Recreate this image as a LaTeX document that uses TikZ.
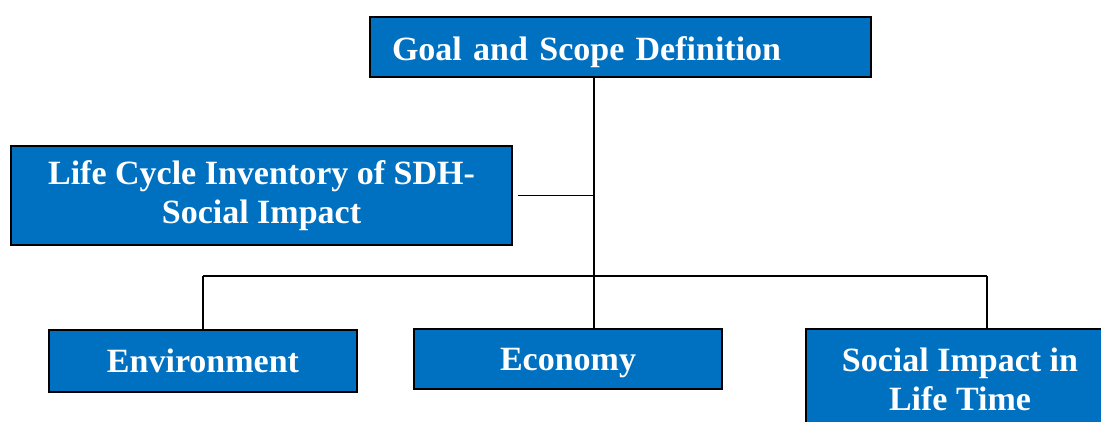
\documentclass[tikz,border=0pt]{standalone}
\usepackage{fontspec}
\setmainfont{Liberation Serif}
\usepackage{tikz}
\usetikzlibrary{shapes,arrows}

\definecolor{boxblue}{HTML}{0070C0}

\begin{document}
\begin{tikzpicture}[x=1pt,y=1pt,
    box/.style={draw=black,line width=1.5pt,fill=boxblue,text=white,
        font=\fontsize{34}{39}\selectfont\bfseries,align=center,inner sep=0pt},
    link/.style={draw=black,line width=1.8pt}]
    \pgfmathsetmacro{\trunk}{594}
    \pgfmathsetmacro{\bus}{145}
    \pgfmathsetmacro{\lx}{203}
    \pgfmathsetmacro{\rx}{987}
    \clip (0,0) rectangle (1101,421);
    % Draw the boxes
    \node [box,minimum width=501,minimum height=60,text width=457,align=left,
        text height=28,text depth=0] (goal) at (620.5,374) {Goal and Scope Definition};
    \node [box,minimum width=501,minimum height=99]
        (lci) at (261.5,225.5) {Life Cycle Inventory of SDH-\\Social Impact};
    \node [box,minimum width=308,minimum height=62,text depth=0] (env) at (203,60) {Environment};
    \node [box,minimum width=308,minimum height=60,text depth=0] (eco) at (568,62) {Economy};
    \node [box,minimum width=308,minimum height=100,text depth=0pt]
        (soc) at (960,42) {Social Impact in\\Life Time};
    \coordinate (hub) at (\trunk,\bus);
    \coordinate (busl) at (\lx,\bus);
    \coordinate (busr) at (\rx,\bus);
    % Draw the links
    \draw [link] (goal.south -| hub) -- (eco.north -| hub);
    \draw [link] ([xshift=5]lci.east) -- (lci.east -| hub);
    \draw [link] (busl) -- (busr);
    \draw [link] (busl) -- (env.north -| busl);
    \draw [link] (busr) -- (soc.north -| busr);
\end{tikzpicture}
\end{document}
